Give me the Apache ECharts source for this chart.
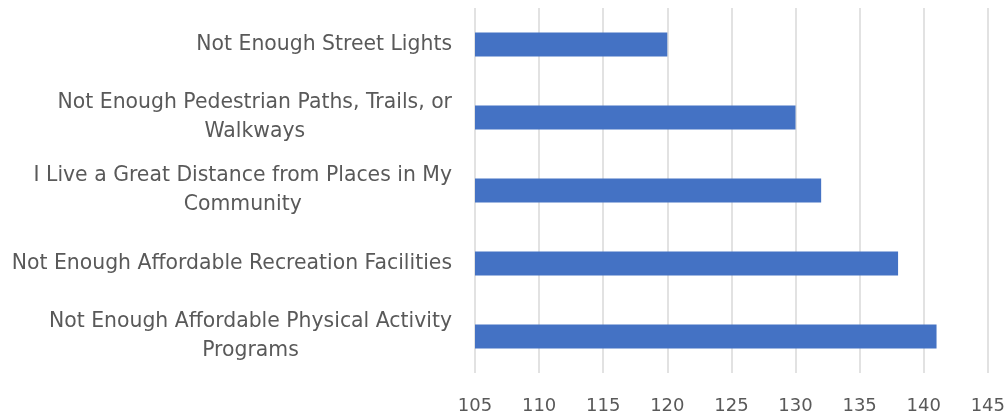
<!DOCTYPE html>
<html>
<head>
<meta charset="utf-8">
<script src="https://cdn.jsdelivr.net/npm/echarts@6/dist/echarts.min.js"></script>
<style>html,body{margin:0;padding:0;background:#fff;}#c{width:1008px;height:419px;}</style>
</head>
<body>
<div id="c"></div>
<script>
var categories = [
  "Not Enough Street Lights",
  "Not Enough Pedestrian Paths, Trails, or\nWalkways",
  "I Live a Great Distance from Places in My\nCommunity",
  "Not Enough Affordable Recreation Facilities",
  "Not Enough Affordable Physical Activity\nPrograms"
];
var values = [120, 130, 132, 138, 141];
var xMin = 105, xMax = 145, xStep = 5;

var chart = echarts.init(document.getElementById('c'), null, {renderer: 'canvas'});
chart.setOption({
  animation: false,
  backgroundColor: '#ffffff',
  grid: {left: 475, right: 20, top: 8, bottom: 46, containLabel: false},
  xAxis: {
    type: 'value', min: xMin, max: xMax, interval: xStep,
    axisLine: {show: false}, axisTick: {show: false},
    splitLine: {show: true, lineStyle: {color: '#d9d9d9', width: 1.5}},
    axisLabel: {color: '#595959', fontFamily: 'DejaVu Sans', fontSize: 18, margin: 24}
  },
  yAxis: {
    type: 'category', data: categories, inverse: true,
    axisLine: {show: false}, axisTick: {show: false},
    axisLabel: {
      color: '#595959', fontFamily: 'DejaVu Sans', fontSize: 20.4, margin: 23, lineHeight: 29,
      formatter: function (v) {
        return v.split('\n').map(function (s) { return '{c|' + s + '}'; }).join('\n');
      },
      rich: {c: {align: 'center', color: '#595959', fontFamily: 'DejaVu Sans', fontSize: 20.4, lineHeight: 29}}
    }
  },
  series: [{
    type: 'bar', data: values, barWidth: 24,
    itemStyle: {color: '#4472c4'}
  }]
});
</script>
</body>
</html>
